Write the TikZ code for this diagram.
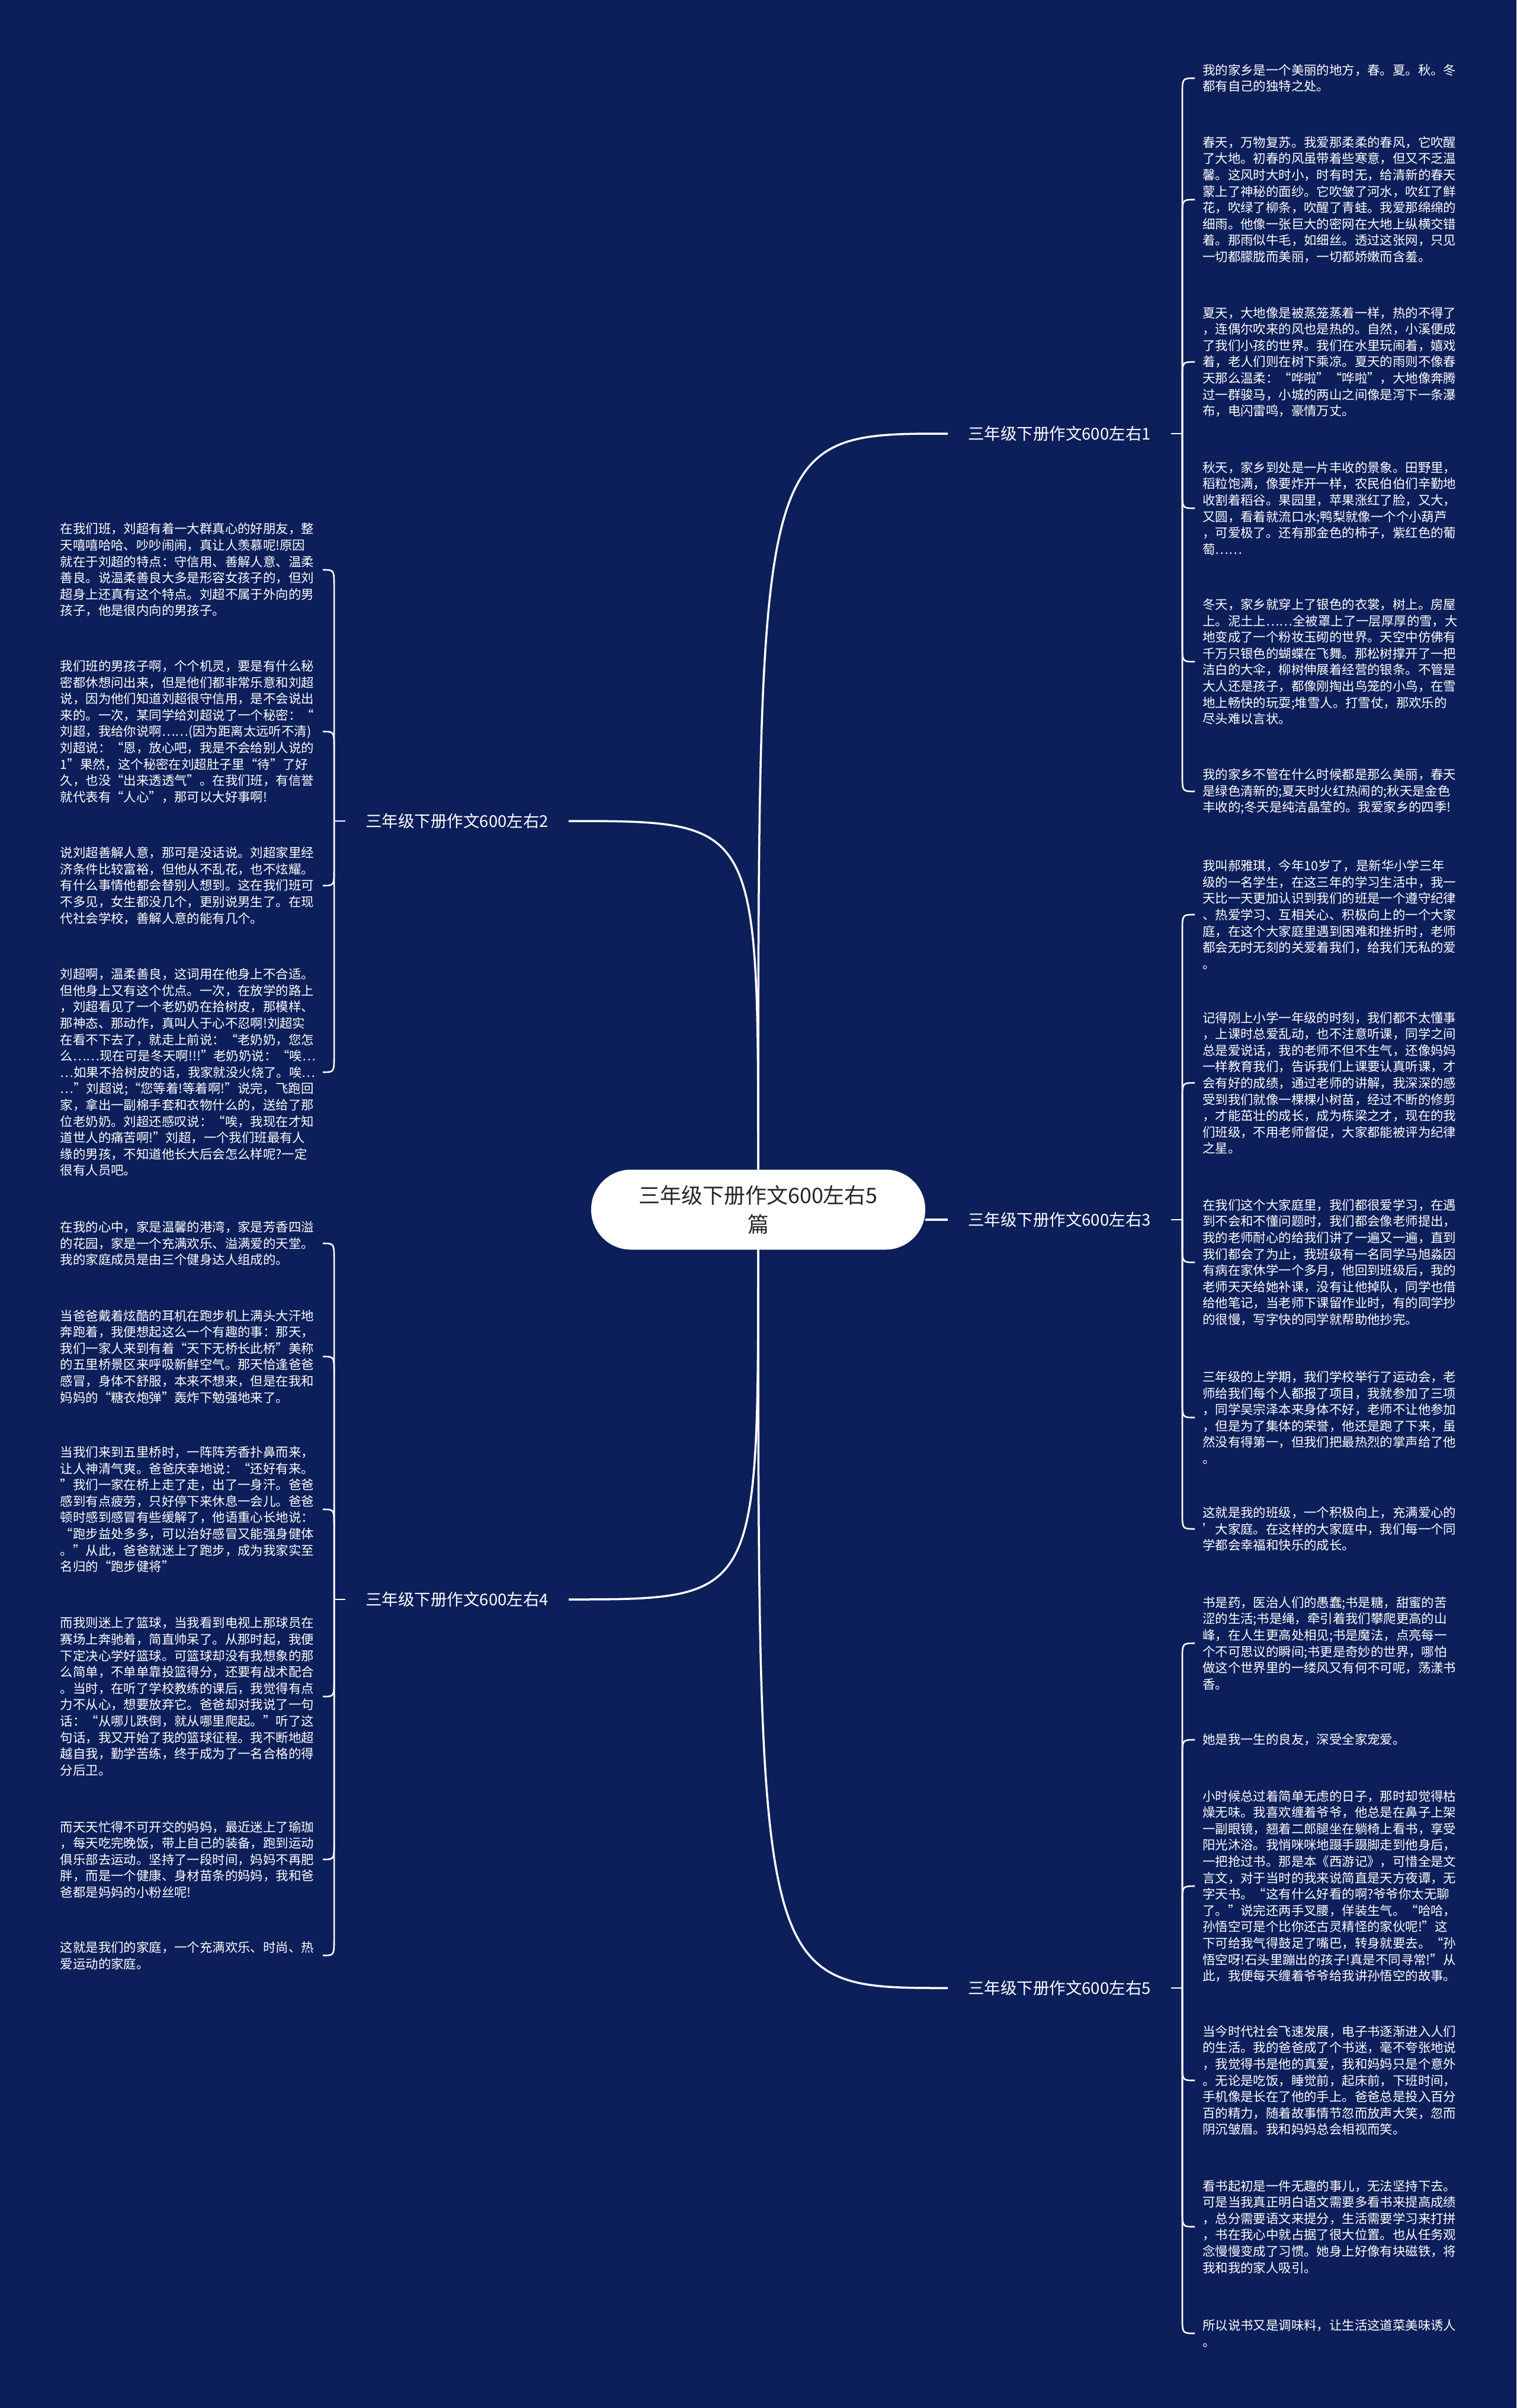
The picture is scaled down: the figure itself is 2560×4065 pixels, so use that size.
\documentclass[tikz,border=0pt]{standalone}
\usepackage{fontspec}
\setmainfont{Noto Sans CJK SC}
\usetikzlibrary{calc}
\definecolor{navy}{RGB}{12,31,90}

\tikzset{
  essay/.style={text=white, align=left, text width=430pt, inner xsep=13pt, inner ysep=0pt,
    font=\fontsize{21.4}{27.6}\selectfont},
  title/.style={text=white, inner xsep=34pt, inner ysep=4pt, font=\fontsize{27.5}{33}\selectfont},
  rootbox/.style={fill=white, text=black!85, rounded corners=67pt, minimum width=564pt,
    minimum height=135pt, align=center, inner sep=0pt, font=\fontsize{36}{48.5}\selectfont},
  branch/.style={white, line width=3.5pt,
    to path={.. controls (\tikztostart |- \tikztotarget) and (\tikztostart |- \tikztotarget) .. (\tikztotarget)}},
  twig/.style={white, line width=2.6pt,
    to path={-- ($(\tikztostart |- \tikztotarget)!28pt!(\tikztostart)$) .. controls (\tikztostart |- \tikztotarget) .. (\tikztotarget)}}
}

\begin{document}
\begin{tikzpicture}[x=1pt, y=-1pt]
	\fill[navy] (0,0) rectangle (2560,4065);
	\useasboundingbox (0,0) rectangle (2560,4065);

	\node[rootbox] (root) at (1280,2042) {三年级下册作文600左右5\\篇};

	% titles
	\node[title, anchor=west] (t1) at (1600,732) {三年级下册作文600左右1};
	\node[title, anchor=east] (t2) at (960,1386) {三年级下册作文600左右2};
	\node[title, anchor=west] (t3) at (1600,2059) {三年级下册作文600左右3};
	\node[title, anchor=east] (t4) at (960,2700) {三年级下册作文600左右4};
	\node[title, anchor=west] (t5) at (1600,3356) {三年级下册作文600左右5};

	% essay 1
	\node[essay, anchor=west] (e1a) at (2017,132) {我的家乡是一个美丽的地方，春。夏。秋。冬\\都有自己的独特之处。};
	\node[essay, anchor=west] (e1b) at (2017,337) {春天，万物复苏。我爱那柔柔的春风，它吹醒\\了大地。初春的风虽带着些寒意，但又不乏温\\馨。这风时大时小，时有时无，给清新的春天\\蒙上了神秘的面纱。它吹皱了河水，吹红了鲜\\花，吹绿了柳条，吹醒了青蛙。我爱那绵绵的\\细雨。他像一张巨大的密网在大地上纵横交错\\着。那雨似牛毛，如细丝。透过这张网，只见\\一切都朦胧而美丽，一切都娇嫩而含羞。};
	\node[essay, anchor=west] (e1c) at (2017,611) {夏天，大地像是被蒸笼蒸着一样，热的不得了\\，连偶尔吹来的风也是热的。自然，小溪便成\\了我们小孩的世界。我们在水里玩闹着，嬉戏\\着，老人们则在树下乘凉。夏天的雨则不像春\\天那么温柔：“哗啦”“哗啦”，大地像奔腾\\过一群骏马，小城的两山之间像是泻下一条瀑\\布，电闪雷鸣，豪情万丈。};
	\node[essay, anchor=west] (e1d) at (2017,858) {秋天，家乡到处是一片丰收的景象。田野里，\\稻粒饱满，像要炸开一样，农民伯伯们辛勤地\\收割着稻谷。果园里，苹果涨红了脸，又大，\\又圆，看着就流口水;鸭梨就像一个个小葫芦\\，可爱极了。还有那金色的柿子，紫红色的葡\\萄……};
	\node[essay, anchor=west] (e1e) at (2017,1117) {冬天，家乡就穿上了银色的衣裳，树上。房屋\\上。泥土上……全被罩上了一层厚厚的雪，大\\地变成了一个粉妆玉砌的世界。天空中仿佛有\\千万只银色的蝴蝶在飞舞。那松树撑开了一把\\洁白的大伞，柳树伸展着经营的银条。不管是\\大人还是孩子，都像刚掏出鸟笼的小鸟，在雪\\地上畅快的玩耍;堆雪人。打雪仗，那欢乐的\\尽头难以言状。};
	\node[essay, anchor=west] (e1f) at (2017,1336) {我的家乡不管在什么时候都是那么美丽，春天\\是绿色清新的;夏天时火红热闹的;秋天是金色\\丰收的;冬天是纯洁晶莹的。我爱家乡的四季!};

	% essay 3
	\node[essay, anchor=west] (e3a) at (2017,1544) {我叫郝雅琪，今年10岁了，是新华小学三年\\级的一名学生，在这三年的学习生活中，我一\\天比一天更加认识到我们的班是一个遵守纪律\\、热爱学习、互相关心、积极向上的一个大家\\庭，在这个大家庭里遇到困难和挫折时，老师\\都会无时无刻的关爱着我们，给我们无私的爱\\。};
	\node[essay, anchor=west] (e3b) at (2017,1828) {记得刚上小学一年级的时刻，我们都不太懂事\\，上课时总爱乱动，也不注意听课，同学之间\\总是爱说话，我的老师不但不生气，还像妈妈\\一样教育我们，告诉我们上课要认真听课，才\\会有好的成绩，通过老师的讲解，我深深的感\\受到我们就像一棵棵小树苗，经过不断的修剪\\，才能茁壮的成长，成为栋梁之才，现在的我\\们班级，不用老师督促，大家都能被评为纪律\\之星。};
	\node[essay, anchor=west] (e3c) at (2017,2131) {在我们这个大家庭里，我们都很爱学习，在遇\\到不会和不懂问题时，我们都会像老师提出，\\我的老师耐心的给我们讲了一遍又一遍，直到\\我们都会了为止，我班级有一名同学马旭淼因\\有病在家休学一个多月，他回到班级后，我的\\老师天天给她补课，没有让他掉队，同学也借\\给他笔记，当老师下课留作业时，有的同学抄\\的很慢，写字快的同学就帮助他抄完。};
	\node[essay, anchor=west] (e3d) at (2017,2393) {三年级的上学期，我们学校举行了运动会，老\\师给我们每个人都报了项目，我就参加了三项\\，同学吴宗泽本来身体不好，老师不让他参加\\，但是为了集体的荣誉，他还是跑了下来，虽\\然没有得第一，但我们把最热烈的掌声给了他\\。};
	\node[essay, anchor=west] (e3e) at (2017,2581) {这就是我的班级，一个积极向上，充满爱心的\\'大家庭。在这样的大家庭中，我们每一个同\\学都会幸福和快乐的成长。};

	% essay 5
	\node[essay, anchor=west] (e5a) at (2017,2774) {书是药，医治人们的愚蠢;书是糖，甜蜜的苦\\涩的生活;书是绳，牵引着我们攀爬更高的山\\峰，在人生更高处相见;书是魔法，点亮每一\\个不可思议的瞬间;书更是奇妙的世界，哪怕\\做这个世界里的一缕风又有何不可呢，荡漾书\\香。};
	\node[essay, anchor=west] (e5b) at (2017,2937) {她是我一生的良友，深受全家宠爱。};
	\node[essay, anchor=west] (e5c) at (2017,3184) {小时候总过着简单无虑的日子，那时却觉得枯\\燥无味。我喜欢缠着爷爷，他总是在鼻子上架\\一副眼镜，翘着二郎腿坐在躺椅上看书，享受\\阳光沐浴。我悄咪咪地蹑手蹑脚走到他身后，\\一把抢过书。那是本《西游记》，可惜全是文\\言文，对于当时的我来说简直是天方夜谭，无\\字天书。“这有什么好看的啊?爷爷你太无聊\\了。”说完还两手叉腰，佯装生气。“哈哈，\\孙悟空可是个比你还古灵精怪的家伙呢!”这\\下可给我气得鼓足了嘴巴，转身就要去。“孙\\悟空呀!石头里蹦出的孩子!真是不同寻常!”从\\此，我便每天缠着爷爷给我讲孙悟空的故事。};
	\node[essay, anchor=west] (e5d) at (2017,3512) {当今时代社会飞速发展，电子书逐渐进入人们\\的生活。我的爸爸成了个书迷，毫不夸张地说\\，我觉得书是他的真爱，我和妈妈只是个意外\\。无论是吃饭，睡觉前，起床前，下班时间，\\手机像是长在了他的手上。爸爸总是投入百分\\百的精力，随着故事情节忽而放声大笑，忽而\\阴沉皱眉。我和妈妈总会相视而笑。};
	\node[essay, anchor=west] (e5e) at (2017,3759) {看书起初是一件无趣的事儿，无法坚持下去。\\可是当我真正明白语文需要多看书来提高成绩\\，总分需要语文来提分，生活需要学习来打拼\\，书在我心中就占据了很大位置。也从任务观\\念慢慢变成了习惯。她身上好像有块磁铁，将\\我和我的家人吸引。};
	\node[essay, anchor=west] (e5f) at (2017,3939) {所以说书又是调味料，让生活这道菜美味诱人\\。};

	% essay 2
	\node[essay, anchor=east] (e2a) at (545,962) {在我们班，刘超有着一大群真心的好朋友，整\\天嘻嘻哈哈、吵吵闹闹，真让人羡慕呢!原因\\就在于刘超的特点：守信用、善解人意、温柔\\善良。说温柔善良大多是形容女孩子的，但刘\\超身上还真有这个特点。刘超不属于外向的男\\孩子，他是很内向的男孩子。};
	\node[essay, anchor=east] (e2b) at (545,1235) {我们班的男孩子啊，个个机灵，要是有什么秘\\密都休想问出来，但是他们都非常乐意和刘超\\说，因为他们知道刘超很守信用，是不会说出\\来的。一次，某同学给刘超说了一个秘密：“\\刘超，我给你说啊……(因为距离太远听不清)\\刘超说：“恩，放心吧，我是不会给别人说的\\1”果然，这个秘密在刘超肚子里“待”了好\\久，也没“出来透透气”。在我们班，有信誉\\就代表有“人心”，那可以大好事啊!};
	\node[essay, anchor=east] (e2c) at (545,1495) {说刘超善解人意，那可是没话说。刘超家里经\\济条件比较富裕，但他从不乱花，也不炫耀。\\有什么事情他都会替别人想到。这在我们班可\\不多见，女生都没几个，更别说男生了。在现\\代社会学校，善解人意的能有几个。};
	\node[essay, anchor=east] (e2d) at (545,1810) {刘超啊，温柔善良，这词用在他身上不合适。\\但他身上又有这个优点。一次，在放学的路上\\，刘超看见了一个老奶奶在拾树皮，那模样、\\那神态、那动作，真叫人于心不忍啊!刘超实\\在看不下去了，就走上前说：“老奶奶，您怎\\么……现在可是冬天啊!!!”老奶奶说：“唉…\\…如果不拾树皮的话，我家就没火烧了。唉…\\…”刘超说;“您等着!等着啊!”说完，飞跑回\\家，拿出一副棉手套和衣物什么的，送给了那\\位老奶奶。刘超还感叹说：“唉，我现在才知\\道世人的痛苦啊!”刘超，一个我们班最有人\\缘的男孩，不知道他长大后会怎么样呢?一定\\很有人员吧。};

	% essay 4
	\node[essay, anchor=east] (e4a) at (545,2099) {在我的心中，家是温馨的港湾，家是芳香四溢\\的花园，家是一个充满欢乐、溢满爱的天堂。\\我的家庭成员是由三个健身达人组成的。};
	\node[essay, anchor=east] (e4b) at (545,2290) {当爸爸戴着炫酷的耳机在跑步机上满头大汗地\\奔跑着，我便想起这么一个有趣的事：那天，\\我们一家人来到有着“天下无桥长此桥”美称\\的五里桥景区来呼吸新鲜空气。那天恰逢爸爸\\感冒，身体不舒服，本来不想来，但是在我和\\妈妈的“糖衣炮弹”轰炸下勉强地来了。};
	\node[essay, anchor=east] (e4c) at (545,2548) {当我们来到五里桥时，一阵阵芳香扑鼻而来，\\让人神清气爽。爸爸庆幸地说：“还好有来。\\”我们一家在桥上走了走，出了一身汗。爸爸\\感到有点疲劳，只好停下来休息一会儿。爸爸\\顿时感到感冒有些缓解了，他语重心长地说：\\“跑步益处多多，可以治好感冒又能强身健体\\。”从此，爸爸就迷上了跑步，成为我家实至\\名归的“跑步健将”};
	\node[essay, anchor=east] (e4d) at (545,2864) {而我则迷上了篮球，当我看到电视上那球员在\\赛场上奔驰着，简直帅呆了。从那时起，我便\\下定决心学好篮球。可篮球却没有我想象的那\\么简单，不单单靠投篮得分，还要有战术配合\\。当时，在听了学校教练的课后，我觉得有点\\力不从心，想要放弃它。爸爸却对我说了一句\\话：“从哪儿跌倒，就从哪里爬起。”听了这\\句话，我又开始了我的篮球征程。我不断地超\\越自我，勤学苦练，终于成为了一名合格的得\\分后卫。};
	\node[essay, anchor=east] (e4e) at (545,3139) {而天天忙得不可开交的妈妈，最近迷上了瑜珈\\，每天吃完晚饭，带上自己的装备，跑到运动\\俱乐部去运动。坚持了一段时间，妈妈不再肥\\胖，而是一个健康、身材苗条的妈妈，我和爸\\爸都是妈妈的小粉丝呢!};
	\node[essay, anchor=east] (e4f) at (545,3301) {这就是我们的家庭，一个充满欢乐、时尚、热\\爱运动的家庭。};

	% root to titles
	\draw[branch] (root.north) to (t1.west);
	\draw[branch] (root.north) to (t2.east);
	\draw[white, line width=3.5pt] (root.east |- t3.west) -- (t3.west);
	\draw[branch] (root.south) to (t4.east);
	\draw[branch] (root.south) to (t5.west);

	% titles to essays
	\draw[twig] (t1.east) -- ++(19,0) coordinate (k1);
	\draw[twig] (t3.east) -- ++(19,0) coordinate (k3);
	\draw[twig] (t5.east) -- ++(19,0) coordinate (k5);
	\draw[twig] (t2.west) -- ++(-19,0) coordinate (k2);
	\draw[twig] (t4.west) -- ++(-19,0) coordinate (k4);
	\foreach \e in {e1a,e1b,e1c,e1d,e1e,e1f}
		\draw[twig] (k1) to (\e.west);
	\foreach \e in {e3a,e3b,e3c,e3d,e3e}
		\draw[twig] (k3) to (\e.west);
	\foreach \e in {e5a,e5b,e5c,e5d,e5e,e5f}
		\draw[twig] (k5) to (\e.west);
	\foreach \e in {e2a,e2b,e2c,e2d}
		\draw[twig] (k2) to (\e.east);
	\foreach \e in {e4a,e4b,e4c,e4d,e4e,e4f}
		\draw[twig] (k4) to (\e.east);
\end{tikzpicture}
\end{document}
